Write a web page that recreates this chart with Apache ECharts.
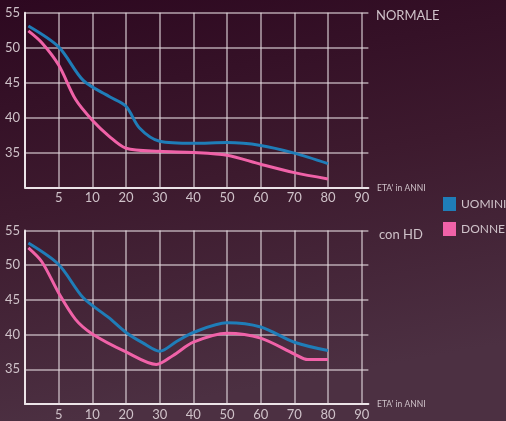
<!DOCTYPE html>
<html>
<head>
<meta charset="utf-8">
<script src="https://cdn.jsdelivr.net/npm/echarts@6/dist/echarts.min.js"></script>
<style>
html,body{margin:0;padding:0;width:506px;height:421px;overflow:hidden;}
#c{width:506px;height:421px;}
</style>
</head>
<body>
<div id="c"></div>
<script>
// Age labels for category positions 0..10 (position 0 = origin)
const ageLabels = ['', '5', '10', '20', '30', '40', '50', '60', '70', '80', '90'];
const yTicks = [35, 40, 45, 50, 55];

// NORMALE panel
const normUominiX = [0.1, 1, 1.73, 2.5, 3, 3.4, 4, 5, 6, 7, 8, 9];
const normUominiY = [53.1, 50.1, 45.3, 43.0, 41.6, 38.5, 36.6, 36.3, 36.4, 36.0, 34.9, 33.4];
const normDonneX = [0.1, 0.5, 1, 1.5, 2, 2.5, 3, 4, 5, 6, 7, 8, 9];
const normDonneY = [52.4, 50.7, 47.5, 42.6, 39.6, 37.3, 35.6, 35.15, 35.0, 34.6, 33.3, 32.1, 31.2];

// con HD panel
const hdUominiX = [0.1, 1, 1.73, 2.5, 3, 3.5, 4, 4.5, 5, 6, 7, 8, 9];
const hdUominiY = [53.2, 50.1, 45.3, 42.4, 40.3, 38.8, 37.6, 39.0, 40.3, 41.7, 41.1, 38.9, 37.7];
const hdDonneX = [0.1, 0.5, 1, 1.5, 2, 3, 3.9, 4.4, 5, 6, 7, 8, 8.4, 9];
const hdDonneY = [52.5, 50.5, 46.0, 42.2, 40.1, 37.5, 35.7, 37.0, 38.9, 40.2, 39.5, 37.2, 36.4, 36.4];

const seriesNames = ['UOMINI', 'DONNE'];
const panelNames = ['NORMALE', 'con HD'];
const xTitle = "ETA' in ANNI";

const zip = (xs, ys) => xs.map((x, i) => [x, ys[i]]);

const BLUE = '#1f7db8';
const PINK = '#f062a8';
const TXT = '#cfc2c9';
const GRID = 'rgba(225,215,220,0.75)';
const AXIS = '#ece4e8';
const FONT = 'Lato';

function xAxis(gi) {
  return {
    gridIndex: gi, type: 'value', min: 0, max: 10.2, interval: 1,
    axisLine: { show: true, lineStyle: { color: AXIS, width: 2 } },
    axisTick: { show: false },
    axisLabel: {
      color: TXT, fontSize: 13, fontFamily: FONT, margin: 4,
      showMinLabel: false, showMaxLabel: false,
      formatter: v => ageLabels[Math.round(v)] || ''
    },
    splitLine: { show: true, showMinLine: false, showMaxLine: false, lineStyle: { color: GRID, width: 1.5 } }
  };
}
function yAxis(gi) {
  return {
    gridIndex: gi, type: 'value', min: 30, max: 55, interval: 5,
    axisLine: { show: true, lineStyle: { color: AXIS, width: 2 } },
    axisTick: { show: false },
    axisLabel: {
      color: TXT, fontSize: 13, fontFamily: FONT, margin: 5,
      formatter: v => yTicks.includes(v) ? String(v) : ''
    },
    splitLine: { show: true, showMinLine: false, lineStyle: { color: GRID, width: 1.5 } }
  };
}
function line(name, data, gi, color) {
  return {
    name, type: 'line', xAxisIndex: gi, yAxisIndex: gi, data,
    smooth: 0.3, symbol: 'none', clip: false,
    lineStyle: { color, width: 3 }, itemStyle: { color }
  };
}
function label(text, left, top, size) {
  return { text, left, top, padding: 0, textStyle: { color: TXT, fontSize: size, fontWeight: 'normal', fontFamily: FONT } };
}

const chart = echarts.init(document.getElementById('c'));
chart.setOption({
  animation: false,
  backgroundColor: {
    type: 'linear', x: 0, y: 0, x2: 0.15, y2: 1,
    colorStops: [
      { offset: 0, color: '#2d0820' },
      { offset: 0.5, color: '#3d1a2e' },
      { offset: 1, color: '#4c3042' }
    ]
  },
  grid: [
    { left: 25, width: 343.4, top: 12.7, height: 174.6 },
    { left: 25, width: 343.4, top: 230.5, height: 173.5 }
  ],
  xAxis: [xAxis(0), xAxis(1)],
  yAxis: [yAxis(0), yAxis(1)],
  title: [
    label(panelNames[0], 376, 9, 13),
    label(panelNames[1], 379, 228, 13),
    label(xTitle, 377, 184, 8.5),
    label(xTitle, 377, 400, 8.5)
  ],
  legend: {
    orient: 'vertical', left: 443, top: 197, itemWidth: 13, itemHeight: 14, itemGap: 11,
    padding: 0, icon: 'rect', data: seriesNames,
    textStyle: { color: TXT, fontSize: 12, fontFamily: FONT }
  },
  series: [
    line(seriesNames[0], zip(normUominiX, normUominiY), 0, BLUE),
    line(seriesNames[1], zip(normDonneX, normDonneY), 0, PINK),
    line(seriesNames[0], zip(hdUominiX, hdUominiY), 1, BLUE),
    line(seriesNames[1], zip(hdDonneX, hdDonneY), 1, PINK)
  ]
});
</script>
</body>
</html>
